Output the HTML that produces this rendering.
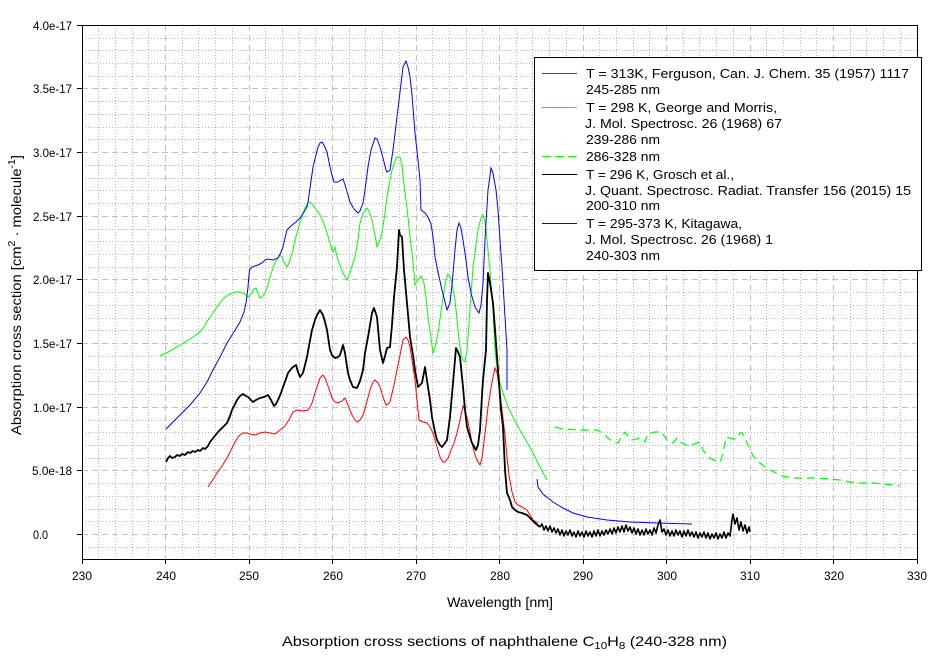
<!DOCTYPE html>
<html><head><meta charset="utf-8"><style>
html,body{margin:0;padding:0;background:#fff;}
svg{display:block;font-family:"Liberation Sans",Arial,sans-serif;}
</style></head><body>
<svg width="942" height="661" viewBox="0 0 942 661" xmlns="http://www.w3.org/2000/svg">
<rect width="942" height="661" fill="#fff"/>
<!-- minor grid -->
<path fill="none" stroke="#b8b8b8" stroke-width="1" stroke-dasharray="1,2" d="
M98.5 25V559M115.5 25V559M132.5 25V559M148.5 25V559
M182.5 25V559M198.5 25V559M215.5 25V559M232.5 25V559
M265.5 25V559M282.5 25V559M299.5 25V559M315.5 25V559
M349.5 25V559M365.5 25V559M382.5 25V559M399.5 25V559
M432.5 25V559M449.5 25V559M466.5 25V559M482.5 25V559
M516.5 25V559M532.5 25V559M549.5 25V559M566.5 25V559
M599.5 25V559M616.5 25V559M633.5 25V559M649.5 25V559
M683.5 25V559M699.5 25V559M716.5 25V559M733.5 25V559
M766.5 25V559M783.5 25V559M800.5 25V559M816.5 25V559
M850.5 25V559M866.5 25V559M883.5 25V559M900.5 25V559
M82 547.5H917M82 521.5H917M82 509.5H917M82 496.5H917M82 483.5H917
M82 458.5H917M82 445.5H917M82 432.5H917M82 420.5H917
M82 394.5H917M82 381.5H917M82 369.5H917M82 356.5H917
M82 330.5H917M82 318.5H917M82 305.5H917M82 292.5H917
M82 267.5H917M82 254.5H917M82 241.5H917M82 229.5H917
M82 203.5H917M82 190.5H917M82 178.5H917M82 165.5H917
M82 139.5H917M82 127.5H917M82 114.5H917M82 101.5H917
M82 76.5H917M82 63.5H917M82 50.5H917M82 38.5H917"/>
<!-- major grid -->
<path fill="none" stroke="#c0c0c0" stroke-width="1" stroke-dasharray="6,4" d="
M165.5 25V559M249.5 25V559M332.5 25V559M416.5 25V559M499.5 25V559
M583.5 25V559M666.5 25V559M750.5 25V559M833.5 25V559
M82 534.5H917M82 470.5H917M82 407.5H917M82 343.5H917
M82 279.5H917M82 216.5H917M82 152.5H917M82 88.5H917"/>
<!-- axes frame -->
<path fill="none" stroke="#000" stroke-width="1" d="M82.5 25.5H917.5V559.5H82.5Z"/>
<!-- ticks -->
<path fill="none" stroke="#000" stroke-width="1" d="
M77 25.5H82M77 88.5H82M77 152.5H82M77 216.5H82M77 279.5H82M77 343.5H82M77 407.5H82M77 470.5H82M77 534.5H82
M82.5 559V564M165.5 559V564M249.5 559V564M332.5 559V564M416.5 559V564M499.5 559V564M583.5 559V564M666.5 559V564M750.5 559V564M833.5 559V564M917.5 559V564"/>
<!-- y tick labels -->
<g font-size="12" fill="#000">
<text x="33" y="30" textLength="39" lengthAdjust="spacingAndGlyphs">4.0e-17</text>
<text x="33" y="93" textLength="39" lengthAdjust="spacingAndGlyphs">3.5e-17</text>
<text x="33" y="157" textLength="39" lengthAdjust="spacingAndGlyphs">3.0e-17</text>
<text x="33" y="221" textLength="39" lengthAdjust="spacingAndGlyphs">2.5e-17</text>
<text x="33" y="284" textLength="39" lengthAdjust="spacingAndGlyphs">2.0e-17</text>
<text x="33" y="348" textLength="39" lengthAdjust="spacingAndGlyphs">1.5e-17</text>
<text x="33" y="412" textLength="39" lengthAdjust="spacingAndGlyphs">1.0e-17</text>
<text x="32" y="475" textLength="40" lengthAdjust="spacingAndGlyphs">5.0e-18</text>
<text x="33" y="539" textLength="15" lengthAdjust="spacingAndGlyphs">0.0</text>
</g>
<!-- x tick labels -->
<g font-size="12" fill="#000" text-anchor="middle">
<text x="82" y="580">230</text>
<text x="166" y="580">240</text>
<text x="249" y="580">250</text>
<text x="333" y="580">260</text>
<text x="416" y="580">270</text>
<text x="500" y="580">280</text>
<text x="583" y="580">290</text>
<text x="667" y="580">300</text>
<text x="750" y="580">310</text>
<text x="834" y="580">320</text>
<text x="917" y="580">330</text>
</g>
<!-- axis titles -->
<text x="447" y="607" font-size="14" textLength="106" lengthAdjust="spacingAndGlyphs">Wavelength [nm]</text>
<text transform="translate(21,295) rotate(-90)" text-anchor="middle" font-size="14" textLength="280" lengthAdjust="spacingAndGlyphs">Absorption cross section [cm<tspan font-size="10" dy="-6">2</tspan><tspan dy="6"> · molecule</tspan><tspan font-size="10" dy="-6">-1</tspan><tspan dy="6">]</tspan></text>
<text x="282" y="646" font-size="14" textLength="445" lengthAdjust="spacingAndGlyphs">Absorption cross sections of naphthalene C<tspan font-size="10" dy="3">10</tspan><tspan dy="-3">H</tspan><tspan font-size="10" dy="3">8</tspan><tspan dy="-3"> (240-328 nm)</tspan></text>

<!-- green dashed 286-328 -->
<polyline fill="none" stroke="#00ff00" stroke-width="1.2" stroke-dasharray="8,5" points="555,427 563,429 580,430 597,430 603,433 608,438 613,442 618,443 621,438 625,432 628,436 632,440 640,438 643,440 645,442 647,436 650,433 655,432 660,432 663,434 667,440 670,442 673,443 677,438 680,442 688,446 694,444 700,442 703,450 708,457 713,460 717,461 720,462 722,457 725,443 727,437 733,439 737,438 740,433 742,433 745,438 747,443 750,449 753,456 756,459 760,463 765,467 772,471 778,474 783,476 788,477 793,478 805,478 817,478 830,479 840,480 850,482 857,483 873,483 885,484 900,486"/>

<!-- green solid -->
<polyline fill="none" stroke="#00ff00" stroke-width="1" points="160,356 170,351 180,345 190,339 200,332 205,325 210,317 215,310 220,303 224,298 228,295 232,293 237,292 240,292 243,293 246,295 248,297 250,295 252,293 254,289 256,288 258,293 260,298 262,297 265,293 268,285 270,277 273,268 275,263 278,258 280,255 282,257 283,260 285,264 287,267 289,263 290,260 293,250 295,240 298,230 300,222 303,213 305,208 307,204 309,202 311,203 313,205 316,209 320,215 323,221 325,227 328,236 330,243 332,250 333,252 335,247 336,252 338,260 341,268 343,273 347,280 350,273 352,266 355,257 358,240 360,223 363,213 367,208 369,211 372,220 375,235 377,247 380,240 382,233 385,213 387,197 390,180 392,170 395,161 397,157 400,157 402,165 403,177 406,200 408,217 410,237 412,253 414,272 415,285 418,280 421,276 424,283 426,298 428,317 431,338 433,353 435,348 438,333 441,312 443,297 446,280 448,274 450,277 452,283 455,300 457,320 459,340 461,355 463,360 465,362 467,350 468,337 471,295 473,267 476,245 478,230 481,218 483,215 485,222 486,230 488,250 490,270 493,310 495,350 497,368 500,383 504,396 508,407 514,419 520,430 527,442 533,453 540,467 547,480"/>

<!-- blue -->
<polyline fill="none" stroke="#0000ff" stroke-width="1" points="166,429 173,422 180,415 190,405 200,393 207,382 213,370 220,357 227,343 234,332 240,322 244,312 246,303 247,295 248,287 249,275 249.5,270 252,267 258,265 262,263 265,260 268,259 273,260 278,258 281,252 283,247 285,238 287,230 292,225 296,222 300,218 304,212 307,207 308,202 310,188 313,167 316,155 318,147 320,143 322,142 324,145 327,152 330,167 332,175 334,182 338,182 341,180 343,179 345,185 348,195 350,202 354,209 358,213 360,211 363,203 365,190 368,167 371,150 375,138 377,139 380,147 383,158 386,170 387,172 390,170 393,150 397,117 400,92 403,67 406,61 408,67 410,77 412,95 415,133 418,160 420,180 421,210 425,213 428,217 431,224 432,230 434,245 435,257 438,272 442,290 445,302 447,310 450,303 452,285 455,250 457,230 459,223 461,228 463,240 466,260 468,277 471,293 475,307 479,313 481,305 483,283 485,240 488,190 491,168 493,173 496,190 498,210 500,240 502,267 505,317 507,350 507,390"/>
<polyline fill="none" stroke="#0000ff" stroke-width="1" points="537,479 538,487 543,494 548,498 553,502 563,508 573,513 587,517 607,520 630,522 657,523 692,524"/>

<!-- red -->
<polyline fill="none" stroke="#ff0000" stroke-width="1" points="208,487 212,481 217,473 222,466 227,458 231,450 235,442 238,437 240,435 243,433 247,433 250,434 255,435 260,433 265,432 270,433 275,434 280,430 284,427 287,423 290,418 293,412 297,410 303,411 308,410 310,407 312,403 315,393 317,387 320,378 323,375 325,378 327,383 330,392 332,398 335,402 338,403 342,401 345,398 348,405 350,410 352,415 355,420 357,422 360,420 363,415 366,405 370,390 373,382 375,380 378,383 380,387 383,397 386,405 388,404 390,402 394,385 397,370 400,355 403,340 406,337 408,340 410,347 412,360 415,380 417,400 419,420 423,422 427,423 430,427 433,433 435,440 438,450 440,457 443,462 445,462 448,458 450,453 454,443 457,433 460,420 463,406 465,410 467,417 470,432 472,443 475,455 477,460 480,465 482,458 483,450 486,425 488,407 491,388 493,377 495,368 497,373 499,385 502,410 505,435 507,457 509,475 512,492 515,502 518,505 522,507 527,510 530,515 533,520 538,523"/>

<!-- black -->
<polyline fill="none" stroke="#000" stroke-width="1.8" stroke-linejoin="round" points="166,462 168,458 170,456 172,458 175,457 177,455 180,456 182,454 185,455 188,452 190,453 193,451 195,452 198,450 200,451 203,448 205,449 208,446 210,442 214,437 218,432 222,428 227,423 230,416 232,410 235,404 237,400 240,396 243,394 246,396 248,397 251,400 253,402 256,400 260,398 264,397 268,395 271,400 274,406 276,404 278,400 281,393 283,387 286,379 288,373 291,369 293,367 296,365 298,372 300,377 303,373 305,365 307,357 309,346 312,330 315,320 317,315 320,310 323,315 325,322 327,330 330,350 332,355 335,358 338,357 340,355 343,345 345,353 348,373 350,380 353,387 357,388 360,381 363,370 365,353 368,337 370,325 372,313 374,308 377,317 380,350 383,363 385,356 387,348 390,347 392,325 394,297 397,267 399,230 400,235 402,237 404,270 407,303 410,337 413,355 415,370 418,387 420,385 422,383 425,367 428,387 430,400 432,417 435,432 437,440 440,445 442,447 445,443 447,440 450,417 453,383 456,348 458,352 460,357 463,387 465,410 467,427 470,437 472,443 476,450 478,445 480,430 482,395 483,380 485,360 486,350 487,300 488,273 490,283 493,303 496,343 499,383 501,410 503,427 505,470 507,493 510,500 512,507 515,510 518,512 522,513 527,515 531,519 535,523 540,527"/>
<polyline fill="none" stroke="#000" stroke-width="1.6" stroke-linejoin="round" points="540,527 542,524 544,530 546,526 548,531 550,526 552,532 554,528 556,533 558,529 560,535 562,530 564,536 566,531 568,535 570,530 572,536 574,532 576,537 578,531 580,536 582,532 584,537 586,531 588,536 590,532 592,537 594,531 596,536 598,530 600,536 602,531 604,535 606,530 608,534 610,529 612,534 614,528 616,533 618,527 620,532 622,526 624,532 626,525 628,531 630,527 632,533 634,528 636,534 638,529 640,535 642,530 644,535 646,529 648,534 650,530 652,535 654,528 656,533 658,525 660,520 662,532 664,529 666,535 668,530 670,536 672,531 674,536 676,530 678,535 680,531 682,537 684,531 686,536 688,530 690,536 692,532 694,537 696,532 698,538 700,533 702,537 704,532 706,538 708,533 710,539 712,534 714,538 716,533 718,539 720,534 722,538 724,532 726,538 728,533 730,536 732,520 733,514 735,524 737,518 739,530 741,522 743,531 745,525 747,533 749,527 750,532"/>

<!-- legend -->
<rect x="534.5" y="57.5" width="387" height="213" fill="#fff" stroke="#000" stroke-width="1"/>
<line x1="542" y1="73.5" x2="577" y2="73.5" stroke="#ff0000" stroke-width="1"/>
<line x1="542" y1="107.5" x2="577" y2="107.5" stroke="#00ff00" stroke-width="1"/>
<line x1="542" y1="156.5" x2="577" y2="156.5" stroke="#00ff00" stroke-width="1" stroke-dasharray="9,4"/>
<line x1="542" y1="174.5" x2="577" y2="174.5" stroke="#000" stroke-width="1"/>
<line x1="542" y1="223.5" x2="577" y2="223.5" stroke="#0000ff" stroke-width="1"/>
<g font-size="13" fill="#000">
<text x="586" y="78" textLength="323" lengthAdjust="spacingAndGlyphs">T = 313K, Ferguson, Can. J. Chem. 35 (1957) 1117</text>
<text x="586" y="94" textLength="74" lengthAdjust="spacingAndGlyphs">245-285 nm</text>
<text x="586" y="112" textLength="191" lengthAdjust="spacingAndGlyphs">T = 298 K, George and Morris,</text>
<text x="585" y="128" textLength="197" lengthAdjust="spacingAndGlyphs">J. Mol. Spectrosc. 26 (1968) 67</text>
<text x="586" y="144" textLength="74" lengthAdjust="spacingAndGlyphs">239-286 nm</text>
<text x="586" y="161" textLength="74" lengthAdjust="spacingAndGlyphs">286-328 nm</text>
<text x="586" y="179" textLength="148" lengthAdjust="spacingAndGlyphs">T = 296 K, Grosch et al.,</text>
<text x="585" y="195" textLength="326" lengthAdjust="spacingAndGlyphs">J. Quant. Spectrosc. Radiat. Transfer 156 (2015) 15</text>
<text x="586" y="210" textLength="74" lengthAdjust="spacingAndGlyphs">200-310 nm</text>
<text x="586" y="228" textLength="156" lengthAdjust="spacingAndGlyphs">T = 295-373 K, Kitagawa,</text>
<text x="585" y="244" textLength="188" lengthAdjust="spacingAndGlyphs">J. Mol. Spectrosc. 26 (1968) 1</text>
<text x="586" y="260" textLength="74" lengthAdjust="spacingAndGlyphs">240-303 nm</text>
</g>
</svg>
</body></html>
